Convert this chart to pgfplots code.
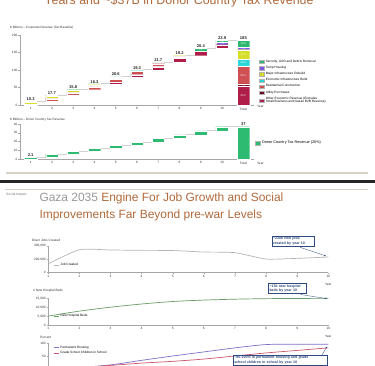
\documentclass[border=0pt]{standalone}
\usepackage{pgfplots}
\pgfplotsset{compat=1.18}
\usepackage{fontspec}
\setmainfont{Liberation Sans}
\usetikzlibrary{arrows.meta}
\definecolor{cSec}{HTML}{2DB870}
\definecolor{cTemp}{HTML}{7E57E8}
\definecolor{cMaj}{HTML}{D6DE2A}
\definecolor{cEco}{HTML}{2CD6D6}
\definecolor{cRes}{HTML}{CF5052}
\definecolor{cUtil}{HTML}{6A0B22}
\definecolor{cOth}{HTML}{AE1E48}
\definecolor{cDonor}{HTML}{2DBB72}
\definecolor{titlec}{HTML}{B06A3C}
\definecolor{navy}{HTML}{2F4A80}
\definecolor{axg}{HTML}{A6A6A6}
\definecolor{tanl}{HTML}{D9D0C6}
\definecolor{cJobs}{HTML}{B4B4B4}
\definecolor{cBeds}{HTML}{6A9E66}
\definecolor{cHouse}{HTML}{8070C8}
\definecolor{cSchool}{HTML}{CC5570}
\pgfplotsset{
  base/.style={scale only axis, anchor=south west, clip=false,
    axis x line*=bottom, axis y line*=left,
    axis line style={draw=axg, line width=0.5bp},
    tick style={draw=axg, line width=0.4bp}, major tick length=1.5bp, tick align=outside,
    tick label style={font=\fontsize{3.2}{3.7}\selectfont, text=black!80, inner sep=1bp},
    /pgf/number format/assume math mode=true},
  sq/.style={legend image code/.code={\path[##1, draw=black!30, line width=0.2bp] (0bp,-1.7bp) rectangle (5bp,1.7bp);}},
  ln/.style={legend image code/.code={\draw[##1] (0bp,0bp) -- (5bp,0bp);}},
  seg/.style={fill=#1, draw=white, line width=0.2bp, sq},
  over/.style={scale only axis, anchor=south west, hide axis, clip=false},
}
\begin{document}
\begin{tikzpicture}
\path[use as bounding box] (0,0) rectangle (375bp,366bp);
\clip (0,0) rectangle (375bp,366bp);
\fill[white] (0,0) rectangle (375bp,366bp);

% top title (cut)
\node[anchor=base, inner sep=0, text=titlec, font=\fontsize{12.5}{15}\selectfont] at (179bp,361bp) {Years and \textasciitilde\$37B in Donor Country Tax Revenue};

% chart 1 label
\node[anchor=west, inner sep=0, font=\fontsize{3.1}{3.6}\selectfont, text=black!80] at (10bp,338bp) {\$ Billions -- Corporate Revenue (Tax Baseline)};

\begin{axis}[base, at={(20bp,261bp)}, width=234bp, height=70bp,
  xmin=0.5, xmax=11.5, ymin=0, ymax=200, ytick={0,50,100,150,200},
  xtick={1,...,11}, xticklabels={1,2,3,4,5,6,7,8,9,10,Total}, xtick style={draw=none},
  ybar stacked, bar width=12.5bp, reverse legend,
  legend style={at={(1.021,0.652)}, anchor=north west, draw=none, fill=none, inner sep=0pt,
    font=\fontsize{3.2}{3.6}\selectfont, cells={anchor=west, align=left}, row sep=1.8bp,
    nodes={inner sep=0.3bp}, /tikz/every odd column/.append style={column sep=1.2bp}}]
\addplot[draw=none, fill=none, forget plot] coordinates {(1,0) (2,10.3) (3,28) (4,43.8) (5,60.1) (6,80.7) (7,100) (8,121.7) (9,140.9) (10,161.3) (11,0)};
\addplot[seg=cOth] coordinates {(1,0) (2,0) (3,0) (4,0) (5,4) (6,6) (7,9) (8,12) (9,12.2) (10,10) (11,53.2)};
\addplot[seg=cUtil] coordinates {(1,0) (2,0) (3,0) (4,0) (5,0) (6,1) (7,2) (8,2) (9,1) (10,1.1) (11,7.1)};
\addplot[seg=cRes] coordinates {(1,0) (2,7) (3,6.5) (4,8) (5,9) (6,8) (7,7) (8,2) (9,0) (10,0) (11,50.1)};
\addplot[seg=cEco] coordinates {(1,2.3) (2,2.5) (3,2.5) (4,2.4) (5,2.6) (6,2.3) (7,2.2) (8,2.2) (9,0) (10,0) (11,20.2)};
\addplot[seg=cMaj] coordinates {(1,5) (2,5.5) (3,4.8) (4,3.9) (5,3) (6,2) (7,1.5) (8,1) (9,0) (10,0) (11,27.4)};
\addplot[seg=cTemp] coordinates {(1,0) (2,0) (3,0) (4,0) (5,0) (6,0) (7,0) (8,0) (9,0) (10,7.4) (11,7.4)};
\addplot[seg=cSec] coordinates {(1,3) (2,2.7) (3,2) (4,2) (5,2) (6,0) (7,0) (8,0) (9,7.2) (10,5.4) (11,19.6)};
\legend{{Other Economic Revenue (Excludes\\Small Business and Gazan B2B Revenue)}, Utility Purchases, Residential Construction, Economic Infrastructure Build, Major Infrastructure Rebuild, Temp Housing, {Security, UXO and Debris Removal}}
\node[anchor=base, inner sep=0, font=\fontsize{3.2}{3.7}\selectfont, text=black!80] at (axis cs:11.8,-7.8) {Year};
\end{axis}
\begin{axis}[over, at={(20bp,261bp)}, width=234bp, height=70bp, xmin=0.5, xmax=11.5, ymin=0, ymax=200]
\addplot[draw=black!18, line width=1bp, unbounded coords=jump] coordinates {(1.29,10.3) (1.71,10.3) (1.71,nan) (2.29,28) (2.71,28) (2.71,nan) (3.29,43.8) (3.71,43.8) (3.71,nan) (4.29,60.1) (4.71,60.1) (4.71,nan) (5.29,80.7) (5.71,80.7) (5.71,nan) (6.29,100) (6.71,100) (6.71,nan) (7.29,121.7) (7.71,121.7) (7.71,nan) (8.29,140.9) (8.71,140.9) (8.71,nan) (9.29,161.3) (9.71,161.3) (9.71,nan) (10.29,185.2) (10.71,185.2)};
\addplot[draw=none, nodes near coords, point meta=explicit symbolic, nodes near coords style={font=\bfseries\fontsize{4.1}{4.6}\selectfont, anchor=south, inner sep=0.7bp, text=black!85}] coordinates {(1,10.3) [10.3] (2,28) [17.7] (3,43.8) [15.8] (4,60.1) [16.3] (5,80.7) [20.6] (6,100) [19.3] (7,121.7) [21.7] (8,140.9) [19.2] (9,161.3) [20.4] (10,185.2) [23.9] (11,185.2) [185]};
\addplot[draw=none, nodes near coords, point meta=explicit symbolic, nodes near coords style={font=\fontsize{2.7}{3}\selectfont, text=white, anchor=center, inner sep=0}] coordinates {(11,26.6) [53.2] (11,56.75) [7.1] (11,85.35) [50.1] (11,120.5) [20.2] (11,144.3) [27.4] (11,161.7) [7.4] (11,175.2) [19.6] (9,157.7) [7.2] (10,174.1) [7.4] (10,180.6) [5.4]};
\end{axis}

% chart 2
\node[anchor=west, inner sep=0, font=\fontsize{3.1}{3.6}\selectfont, text=black!80] at (10bp,246.5bp) {\$ Billions -- Donor Country Tax Revenue};
\begin{axis}[base, at={(20bp,207bp)}, width=234bp, height=35bp,
  xmin=0.5, xmax=11.5, ymin=0, ymax=40, ytick={0,10,20,30,40},
  xtick={1,...,11}, xticklabels={1,2,3,4,5,6,7,8,9,10,Total}, xtick style={draw=none},
  ybar stacked, bar width=12.5bp,
  legend style={at={(1.004,0.457)}, anchor=west, draw=none, fill=none, inner sep=0pt,
    font=\fontsize{3.8}{4.2}\selectfont, cells={anchor=west}, nodes={inner sep=0.5bp},
    /tikz/every odd column/.append style={column sep=1.2bp}}]
\addplot[draw=none, fill=none, forget plot] coordinates {(1,0) (2,2.1) (3,5.4) (4,8.7) (5,12.1) (6,15.7) (7,19.4) (8,23.4) (9,27.6) (10,32.0) (11,0)};
\addplot[seg=cDonor] coordinates {(1,2.1) (2,3.3) (3,3.3) (4,3.4) (5,3.6) (6,3.7) (7,4.0) (8,4.2) (9,4.4) (10,5.0) (11,37)};
\legend{Donor Country Tax Revenue (20\%)}
\node[anchor=base, inner sep=0, font=\fontsize{3.2}{3.7}\selectfont, text=black!80] at (axis cs:11.8,-5.8) {Year};
\end{axis}
\begin{axis}[over, at={(20bp,207bp)}, width=234bp, height=35bp, xmin=0.5, xmax=11.5, ymin=0, ymax=40]
\addplot[draw=black!18, line width=1bp, unbounded coords=jump] coordinates {(1.29,2.1) (1.71,2.1) (1.71,nan) (2.29,5.4) (2.71,5.4) (2.71,nan) (3.29,8.7) (3.71,8.7) (3.71,nan) (4.29,12.1) (4.71,12.1) (4.71,nan) (5.29,15.7) (5.71,15.7) (5.71,nan) (6.29,19.4) (6.71,19.4) (6.71,nan) (7.29,23.4) (7.71,23.4) (7.71,nan) (8.29,27.6) (8.71,27.6) (8.71,nan) (9.29,32.0) (9.71,32.0) (9.71,nan) (10.29,37) (10.71,37)};
\addplot[draw=none, nodes near coords, point meta=explicit symbolic, nodes near coords style={font=\bfseries\fontsize{4.1}{4.6}\selectfont, anchor=south, inner sep=0.7bp, text=black!85}] coordinates {(1,2.1) [2.1] (11,37) [37]};
\end{axis}

% separators
\draw[tanl, line width=1.3bp] (6bp,193bp) -- (368bp,193bp);
\fill[black!85] (0,183.3bp) rectangle (375bp,186bp);
\draw[tanl, line width=0.8bp] (5bp,177bp) -- (368bp,177bp);

% slide 2 header
\node[anchor=base west, inner sep=0, font=\fontsize{3.4}{4}\selectfont, text=black!55] at (6bp,170bp) {Social Impact};
\node[anchor=base west, inner sep=0, font=\fontsize{12}{14}\selectfont] at (39.3bp,164bp) {\textcolor{black!40}{Gaza 2035} \textcolor{titlec}{Engine For Job Growth and Social}};
\node[anchor=base west, inner sep=0, font=\fontsize{12}{14}\selectfont, text=titlec] at (39.3bp,147.3bp) {Improvements Far Beyond pre-war Levels};

% chart 3: jobs
\node[anchor=west, inner sep=0, font=\fontsize{3.2}{3.7}\selectfont, text=black!80] at (31.7bp,126bp) {Direct Jobs Created};
\begin{axis}[base, at={(48.3bp,93.3bp)}, width=280bp, height=26.7bp,
  xmin=1, xmax=10, ymin=0, ymax=400000, ytick={0,200000,400000}, xtick={1,...,10},
  scaled y ticks=false, yticklabel style={/pgf/number format/.cd, fixed, 1000 sep={,}},
  legend style={at={(0.017,0.29)}, anchor=west, draw=none, fill=none, inner sep=0pt, font=\fontsize{3.2}{3.7}\selectfont, cells={anchor=west}, nodes={inner sep=0.5bp}, /tikz/every odd column/.append style={column sep=1bp}}]
\addplot[ln, color=cJobs, line width=0.7bp, smooth, tension=0.35] coordinates {(1,133000) (2,345000) (3,340000) (4,335000) (5,332000) (6,310000) (7,300000) (8,205000) (9,215000) (10,235000)};
\legend{Job Created}
\node[anchor=base, inner sep=0, font=\fontsize{3.2}{3.7}\selectfont, text=black!80] at (axis cs:10,-195000) {Year};
\end{axis}
\node[draw=navy, line width=0.5bp, fill=white, align=left, inner sep=1bp, text width=40bp, font=\bfseries\fontsize{3.6}{4.3}\selectfont, text=navy] (b1) at (293bp,124.9bp) {\textasciitilde230k new jobs\\created by year 10};
\draw[navy, line width=0.3bp, -{Stealth[length=2bp,width=1.5bp]}] (300bp,118.7bp) -- (326bp,110bp);

% chart 4: beds
\node[anchor=west, inner sep=0, font=\fontsize{3.2}{3.7}\selectfont, text=black!80] at (33bp,75bp) {\# New Hospital Beds};
\begin{axis}[base, at={(48.3bp,41bp)}, width=280bp, height=26.7bp,
  xmin=1, xmax=10, ymin=0, ymax=15000, ytick={0,5000,10000,15000}, xtick={1,...,10},
  scaled y ticks=false, yticklabel style={/pgf/number format/.cd, fixed, 1000 sep={,}},
  legend style={at={(0.017,0.337)}, anchor=west, draw=none, fill=none, inner sep=0pt, font=\fontsize{3.2}{3.7}\selectfont, cells={anchor=west}, nodes={inner sep=0.5bp}, /tikz/every odd column/.append style={column sep=1bp}}]
\addplot[ln, color=cBeds, line width=0.7bp, smooth] coordinates {(1,5000) (2,7800) (3,10000) (4,11800) (5,13200) (6,14000) (7,14500) (8,14800) (9,14900) (10,15000)};
\legend{New Hospital Beds}
\node[anchor=base, inner sep=0, font=\fontsize{3.2}{3.7}\selectfont, text=black!80] at (axis cs:10,-7300) {Year};
\end{axis}
\node[draw=navy, line width=0.5bp, fill=white, align=left, inner sep=1bp, text width=36bp, font=\bfseries\fontsize{3.6}{4.3}\selectfont, text=navy] (b2) at (287.5bp,77.7bp) {\textasciitilde13k new hospital\\beds by year 10};
\draw[navy, line width=0.3bp, -{Stealth[length=2bp,width=1.5bp]}] (300bp,71.6bp) -- (327bp,67.3bp);

% chart 5: percent
\node[anchor=west, inner sep=0, font=\fontsize{3.2}{3.7}\selectfont, text=black!80] at (40bp,29bp) {Percent};
\begin{axis}[base, at={(48.3bp,-2.7bp)}, width=280bp, height=25.4bp,
  xmin=1, xmax=10, ymin=0, ymax=100, ytick={0,50,100}, xtick={1,...,10},
  legend style={at={(0.017,0.93)}, anchor=north west, draw=none, fill=none, inner sep=0pt, font=\fontsize{3.2}{3.7}\selectfont, cells={anchor=west}, row sep=1bp, nodes={inner sep=0.5bp}, /tikz/every odd column/.append style={column sep=1bp}}]
\addplot[ln, color=cHouse, line width=0.7bp, smooth] coordinates {(1,2) (2,5) (3,15) (4,33) (5,50) (6,66) (7,82) (8,95) (9,96) (10,96)};
\addplot[ln, color=cSchool, line width=0.7bp, smooth] coordinates {(1,2) (2,5) (3,13) (4,22) (5,29) (6,38) (7,50) (8,62) (9,72) (10,82)};
\legend{Permanent Housing, Grade School Children in School}
\end{axis}
\node[draw=navy, line width=0.5bp, fill=white, align=left, inner sep=1bp, text width=92bp, font=\bfseries\fontsize{3.6}{4.3}\selectfont, text=navy, anchor=north west] (b3) at (233bp,11bp) {\textasciitilde85-100\% in permanent housing and grade\\school children in school by year 10};
\draw[navy, line width=0.3bp, -{Stealth[length=2bp,width=1.5bp]}] (322bp,11bp) -- (327bp,19.5bp);
\end{tikzpicture}
\end{document}
